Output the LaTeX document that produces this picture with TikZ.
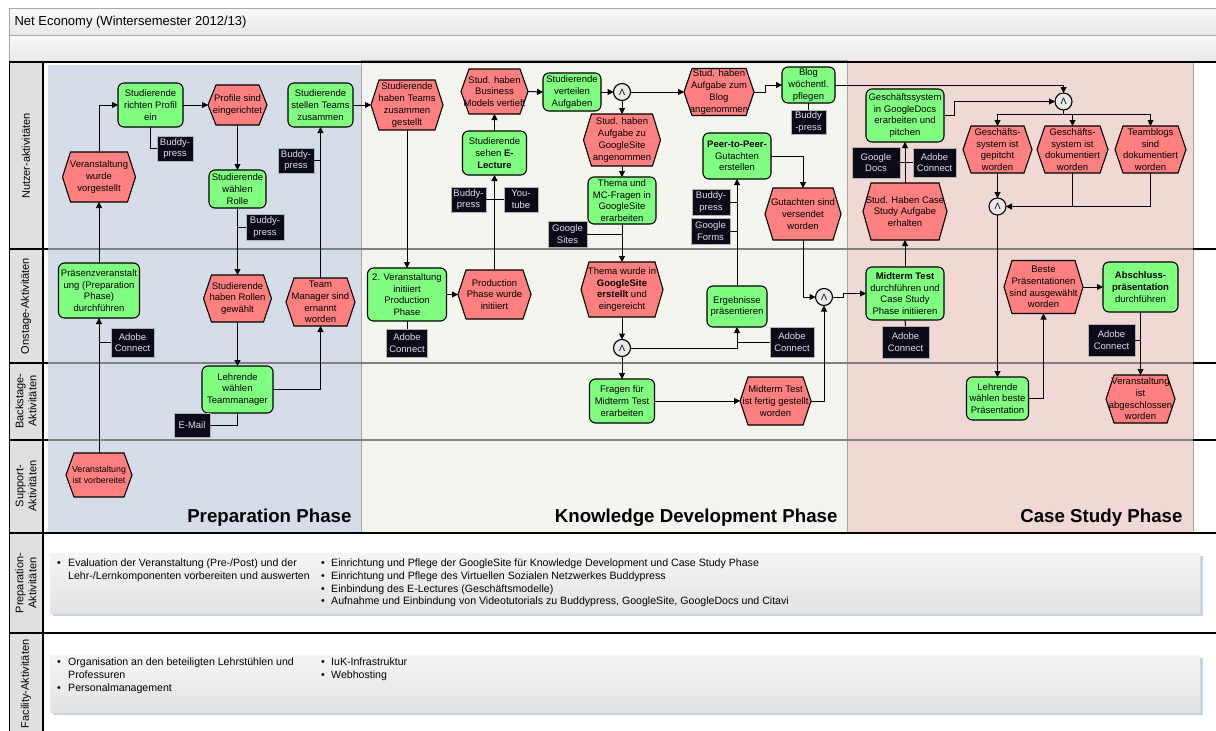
\documentclass[tikz,border=0pt]{standalone}
\usepackage{fontspec}
\setmainfont{Liberation Sans}
\usetikzlibrary{arrows.meta,calc}

\definecolor{actgreen}{HTML}{80FF80}
\definecolor{evred}{HTML}{FF8080}
\definecolor{toolbg}{HTML}{0B0B18}
\definecolor{tooltxt}{HTML}{DCDCF5}
\definecolor{prepbg}{HTML}{D5DEE8}
\definecolor{kdbg}{HTML}{F3F5EE}
\definecolor{csbg}{HTML}{F0D9D5}
\definecolor{colgray}{HTML}{E0E0E0}
\definecolor{andfill}{HTML}{EAEAEA}
\definecolor{lanesep}{HTML}{808080}
\definecolor{shadowblue}{HTML}{C8D2E2}

\newcommand\nodefont{\fontsize{9.5}{11.7}\selectfont}
\newcommand\bottomfont{\fontsize{10.6}{12.7}\selectfont}

% event: name, x, y, width, height, text
\newcommand\evt[6]{%
  \filldraw[evline] (#2-#4/2,#3) -- (#2-#4/2+8,#3-#5/2) -- (#2+#4/2-8,#3-#5/2)
     -- (#2+#4/2,#3) -- (#2+#4/2-8,#3+#5/2) -- (#2-#4/2+8,#3+#5/2) -- cycle;
  \node[evtext, minimum width=#4, minimum height=#5] (#1) at (#2,#3) {#6};
}

\tikzset{
  act/.style={rectangle, rounded corners=6pt, draw=black, line width=1.1pt,
    fill=actgreen, align=center, font=\nodefont, inner sep=1pt, outer sep=0pt},
  evline/.style={draw=black, line width=1.1pt, fill=evred},
  evtext/.style={rectangle, align=center, font=\nodefont, inner sep=1pt, outer sep=0pt},
  tool/.style={rectangle, fill=toolbg, draw=gray!60, line width=0.4pt, text=tooltxt,
    align=center, font=\nodefont, inner sep=1pt, outer sep=0pt},
  andc/.style={circle, draw=black, line width=1.1pt, fill=andfill, minimum size=17pt,
    inner sep=0pt, outer sep=0pt, font=\fontsize{9}{10}\selectfont},
  arr/.style={draw=black, line width=1pt, -{Triangle[length=6pt,width=6pt]}},
  conn/.style={draw=black, line width=1pt},
  lanelabel/.style={rotate=90, align=center, font=\fontsize{11}{13}\selectfont},
  phasetitle/.style={anchor=base east, font=\fontsize{18.7}{22}\selectfont\bfseries},
  btext/.style={anchor=base west, font=\bottomfont, inner sep=0pt},
  bullet/.style={anchor=base west, font=\bottomfont, inner sep=0pt},
}

\begin{document}
\begin{tikzpicture}[x=1pt,y=-1pt]
\useasboundingbox (0,0) rectangle (1216,731);
\fill[white] (0,0) rectangle (1216,731);

% header bars
\shade[top color=gray!5, bottom color=gray!18, draw=gray!70] (9,8) rectangle (1216,35);
\shade[top color=gray!5, bottom color=gray!18, draw=gray!70] (9,35) rectangle (1216,62);
\node[anchor=west, font=\fontsize{13}{15}\selectfont] (title) at (11,22) {Net Economy (Wintersemester 2012/13)};

% label column
\fill[colgray] (9,62) rectangle (43,731);

% phase areas
\fill[prepbg] (48,65) rectangle (361,533);
\filldraw[fill=kdbg, draw=gray!70, line width=0.8pt] (361,60) rectangle (847,533);
\filldraw[fill=csbg, draw=gray!70, line width=0.8pt] (847,62) rectangle (1193,533);

% lane separators
\foreach \yy in {249,363,440} {
  \draw[black, line width=1.6pt] (9,\yy) -- (48,\yy);
  \draw[lanesep, line width=1.2pt] (48,\yy) -- (1193,\yy);
  \draw[black, line width=1.6pt] (1193,\yy) -- (1216,\yy);
}
\foreach \yy in {62,533,633} {
  \draw[black, line width=1.8pt] (9,\yy) -- (1216,\yy);
}
\draw[black, line width=1.8pt] (43,62) -- (43,731);
\draw[black, line width=1pt] (9,62) -- (9,731);

% lane labels
\node[lanelabel] (l1) at (26,156) {Nutzer-aktivitäten};
\node[lanelabel] (l2) at (26,306) {Onstage-Aktivitäten};
\node[lanelabel] (l3) at (26,401) {Backstage-\\Aktivitäten};
\node[lanelabel] (l4) at (26,486) {Support-\\Aktivitäten};
\node[lanelabel] (l5) at (26,583) {Preparation-\\Aktivitäten};
\node[lanelabel] (l6) at (26,684) {Facility-Aktivitäten};

% phase titles
\node[phasetitle] (p1) at (355,522) {Preparation Phase};
\node[phasetitle] (p2) at (841,522) {Knowledge Development Phase};
\node[phasetitle] (p3) at (1186,522) {Case Study Phase};

% bottom panels
\fill[shadowblue] (53,556) rectangle (1203,616);
\shade[top color=gray!8, bottom color=gray!22] (50,553) rectangle (1200,613);
\fill[shadowblue] (53,658) rectangle (1203,715);
\shade[top color=gray!8, bottom color=gray!22] (50,655) rectangle (1200,712);

\node[bullet] (b1) at (57,566) {•};
\node[btext] (x1) at (68,566) {Evaluation der Veranstaltung (Pre-/Post) und der};
\node[btext] (x2) at (68,579) {Lehr-/Lernkomponenten vorbereiten und auswerten};
\node[bullet] (b2) at (321,566) {•};
\node[btext] (x3) at (331,566) {Einrichtung und Pflege der GoogleSite für Knowledge Development und Case Study Phase};
\node[bullet] (b3) at (321,579) {•};
\node[btext] (x4) at (331,579) {Einrichtung und Pflege des Virtuellen Sozialen Netzwerkes Buddypress};
\node[bullet] (b4) at (321,592) {•};
\node[btext] (x5) at (331,592) {Einbindung des E-Lectures (Geschäftsmodelle)};
\node[bullet] (b5) at (321,604) {•};
\node[btext] (x6) at (331,604) {Aufnahme und Einbindung von Videotutorials zu Buddypress, GoogleSite, GoogleDocs und Citavi};

\node[bullet] (b6) at (57,665) {•};
\node[btext] (x7) at (68,665) {Organisation an den beteiligten Lehrstühlen und};
\node[btext] (x8) at (68,678) {Professuren};
\node[bullet] (b7) at (57,691) {•};
\node[btext] (x9) at (68,691) {Personalmanagement};
\node[bullet] (b8) at (321,665) {•};
\node[btext] (x10) at (331,665) {IuK-Infrastruktur};
\node[bullet] (b9) at (321,678) {•};
\node[btext] (x11) at (331,678) {Webhosting};

% ---------- Preparation Phase ----------
\node[act, minimum width=65, minimum height=44] (a1) at (150.5,105) {Studierende\\richten Profil\\ein};
\node[act, minimum width=65, minimum height=44] (a2) at (320.5,105) {Studierende\\stellen Teams\\zusammen};
\node[act, minimum width=57, minimum height=38] (a3) at (237.5,189) {Studierende\\wählen\\Rolle};
\node[act, minimum width=81, minimum height=55] (a4) at (99,290.5) {Präsenzveranstalt\\ung (Preparation\\Phase)\\durchführen};
\node[act, minimum width=71, minimum height=47] (a5) at (237.5,389.5) {Lehrende\\wählen\\Teammanager};

\evt{e1}{99}{177}{73}{50}{Veranstaltung\\wurde\\vorgestellt}
\evt{e2}{237.5}{105}{59}{40}{Profile sind\\eingerichtet}
\evt{e3}{237.5}{298.5}{68}{47}{Studierende\\haben Rollen\\gewählt}
\evt{e4}{320.5}{302}{69}{48}{Team\\Manager sind\\ernannt\\worden}
\filldraw[evline] (66,475) -- (74,453) -- (124,453) -- (132,475) -- (124,497) -- (74,497) -- cycle;
\node[evtext, font=\fontsize{8.8}{10.5}\selectfont, minimum width=66, minimum height=44] (e5) at (99,475) {Veranstaltung\\ist vorbereitet};

\node[tool, minimum width=36, minimum height=25] (t1) at (175,148.5) {Buddy-\\press};
\node[tool, minimum width=38, minimum height=26] (t2) at (265,227) {Buddy-\\press};
\node[tool, minimum width=36, minimum height=25] (t3) at (296,160.5) {Buddy-\\press};
\node[tool, minimum width=43, minimum height=29] (t4) at (132.5,342.5) {Adobe\\Connect};
\node[tool, minimum width=36, minimum height=24] (t5) at (192,425) {E-Mail};

% ---------- Knowledge Development Phase ----------
\node[act, minimum width=58, minimum height=38] (a6) at (572,92) {Studierende\\verteilen\\Aufgaben};
\node[act, minimum width=64, minimum height=44] (a7) at (494.5,153) {Studierende\\sehen \textbf{E-}\\\textbf{Lecture}};
\node[act, minimum width=68, minimum height=47] (a8) at (622,200.5) {Thema und\\MC-Fragen in\\GoogleSite\\erarbeiten};
\node[act, minimum width=79, minimum height=53] (a9) at (407,294.5) {2. Veranstaltung\\initiiert\\Production\\Phase};
\node[act, minimum width=65, minimum height=44] (a10) at (622,401) {Fragen für\\Midterm Test\\erarbeiten};
\node[act, minimum width=60, minimum height=41] (a11) at (737,306.5) {Ergebnisse\\präsentieren};
\node[act, minimum width=68, minimum height=46] (a12) at (737,156) {\textbf{Peer-to-Peer-}\\Gutachten\\erstellen};
\node[act, minimum width=53, minimum height=36] (a13) at (808.5,85) {Blog\\wöchentl.\\pflegen};

\evt{e6}{407}{105}{72}{50}{Studierende\\haben Teams\\zusammen\\gestellt}
\evt{e7}{494.5}{91.5}{67}{45}{Stud. haben\\Business\\Models vertieft}
\evt{e8}{622}{140}{77}{52}{Stud. haben\\Aufgabe zu\\GoogleSite\\angenommen}
\evt{e9}{494.5}{294.5}{73}{49}{Production\\Phase wurde\\initiiert}
\evt{e10}{622}{289.5}{82}{55}{Thema wurde in\\\textbf{GoogleSite}\\\textbf{erstellt} und\\eingereicht}
\evt{e11}{775.5}{401}{71}{48}{Midterm Test\\ist fertig gestellt\\worden}
\evt{e12}{719}{92}{70}{47}{Stud. haben\\Aufgabe zum\\Blog\\angenommen}
\evt{e13}{803}{214}{76}{52}{Gutachten sind\\versendet\\worden}

\node[andc] (j1) at (622,92) {Λ};
\node[andc] (j2) at (622,348) {Λ};
\node[andc] (j3) at (824,297) {Λ};

\node[tool, minimum width=35, minimum height=25] (t6) at (468.5,199.5) {Buddy-\\press};
\node[tool, minimum width=34, minimum height=25] (t7) at (521,199.5) {You-\\tube};
\node[tool, minimum width=39, minimum height=26] (t8) at (567.5,234) {Google\\Sites};
\node[tool, minimum width=41, minimum height=28] (t9) at (407,343) {Adobe\\Connect};
\node[tool, minimum width=44, minimum height=30] (t10) at (792,342) {Adobe\\Connect};
\node[tool, minimum width=35, minimum height=24] (t11) at (808.5,122) {Buddy\\-press};
\node[tool, minimum width=38, minimum height=26] (t12) at (711,202) {Buddy-\\press};
\node[tool, minimum width=39, minimum height=26] (t13) at (710.5,231) {Google\\Forms};

% ---------- Case Study Phase ----------
\node[act, minimum width=78, minimum height=53] (a14) at (905,115.5) {Geschäftssystem\\in GoogleDocs\\erarbeiten und\\pitchen};
\node[act, minimum width=78, minimum height=53] (a15) at (905,293.5) {\textbf{Midterm Test}\\durchführen und\\Case Study\\Phase initiieren};
\node[act, minimum width=75, minimum height=50] (a16) at (1140.5,287) {\textbf{Abschluss-}\\\textbf{präsentation}\\durchführen};
\node[act, minimum width=62, minimum height=43] (a17) at (997.5,398.5) {Lehrende\\wählen beste\\Präsentation};

\evt{e14}{905}{211.5}{84}{57}{Stud. Haben Case\\Study Aufgabe\\erhalten}
\evt{e15}{997.5}{149.5}{69}{47}{Geschäfts-\\system ist\\gepitcht\\worden}
\evt{e16}{1072.5}{149.5}{71}{47}{Geschäfts-\\system ist\\dokumentiert\\worden}
\evt{e17}{1150.5}{149.5}{71}{47}{Teamblogs\\sind\\dokumentiert\\worden}
\evt{e18}{1043.5}{287}{79}{53}{Beste\\Präsentationen\\sind ausgewählt\\worden}
\evt{e19}{1140.5}{399}{69}{48}{Veranstaltung\\ist\\abgeschlossen\\worden}

\node[andc] (j4) at (1063.5,101.5) {Λ};
\node[andc] (j5) at (997.5,206.5) {Λ};
\coordinate (sp) at (1063.5,114);

\node[tool, minimum width=48, minimum height=31] (t14) at (876,162.5) {Google\\Docs};
\node[tool, minimum width=43, minimum height=29] (t15) at (934.5,162.5) {Adobe\\Connect};
\node[tool, minimum width=47, minimum height=32] (t16) at (905.5,342) {Adobe\\Connect};
\node[tool, minimum width=47, minimum height=32] (t17) at (1111.5,340) {Adobe\\Connect};

% ---------- tool attachments ----------
\draw[conn] (a1.south) |- (t1.west);
\draw[conn] (t2.west) -- (t2.west -| a3.south);
\draw[conn] (t3.east) -- (t3.east -| a2.south);
\draw[conn] (t4.west) -- (t4.west -| a4.south);
\draw[conn] (t5.east) -| (a5.south);
\draw[conn] (t6.east) -- (t7.west);
\draw[conn] (t8.east) -- (t8.east -| a8.south);
\draw[conn] (t9.north) -- (a9.south);
\draw[conn] (t10.west) -- (t10.west -| a11.south);
\draw[conn] (t11.north) -- (a13.south);
\draw[conn] (t12.east) -- (t12.east -| a12.south);
\draw[conn] (t13.east) -- (t13.east -| a12.south);
\draw[conn] (t14.east) -- (t15.west);
\draw[conn] (t16.north) -- (a15.south);
\draw[conn] (t17.east) -- (t17.east -| a16.south);

% ---------- process flow ----------
\draw[arr] (e5.north) -- (a4.south);
\draw[arr] (a4.north) -- (e1.south);
\draw[arr] (e1.north) |- (a1.west);
\draw[arr] (a1.east) -- (e2.west);
\draw[arr] (e2.south) -- (a3.north);
\draw[arr] (a3.south) -- (e3.north);
\draw[arr] (e3.south) -- (a5.north);
\draw[arr] (a5.east) -| (e4.south);
\draw[arr] (e4.north) -- (a2.south);
\draw[arr] (a2.east) -- (e6.west);
\draw[arr] (e6.south) -- (a9.north);
\draw[arr] (a9.east) -- (e9.west);
\draw[arr] (e9.north) -- (a7.south);
\draw[arr] (a7.north) -- (e7.south);
\draw[arr] (e7.east) -- (a6.west);
\draw[arr] (a6.east) -- (j1.west);
\draw[arr] (j1.south) -- (e8.north);
\draw[arr] (e8.south) -- (a8.north);
\draw[arr] (a8.south) -- (e10.north);
\draw[arr] (e10.south) -- (j2.north);
\draw[arr] (j2.south) -- (a10.north);
\draw[arr] (j2.east) -| (a11.south);
\draw[arr] (a11.north) -- (a12.south);
\draw[arr] (a12.east) -| (e13.north);
\draw[arr] (e13.south) |- (j3.west);
\draw[arr] (a10.east) -- (e11.west);
\draw[arr] (e11.east) -| (j3.south);
\draw[arr] (j3.east) -- (843,297) -- (843,293.5) -- (a15.west);
\draw[arr] (j1.east) -- (e12.west);
\draw[arr] (e12.east) -- ++(11,0) |- (a13.west);
\draw[arr] (a13.east) -| (j4.north);
\draw[arr] (a15.north) -- (e14.south);
\draw[arr] (e14.north) -- (a14.south);
\draw[arr] (a14.east) -- ++(10,0) |- (j4.west);
\draw[conn] (j4.south) -- (sp);
\draw[arr] (sp) -| (e15.north);
\draw[arr] (sp) -| (e16.north);
\draw[arr] (sp) -| (e17.north);
\draw[arr] (e15.south) -- (j5.north);
\draw[arr] (e17.south) |- (j5.east);
\draw[conn] (e16.south) -- (e16.south |- j5.east);
\draw[arr] (j5.south) -- (a17.north);
\draw[arr] (a17.east) -| (e18.south);
\draw[arr] (e18.east) -- (a16.west);
\draw[arr] (a16.south) -- (e19.north);
\end{tikzpicture}
\end{document}
